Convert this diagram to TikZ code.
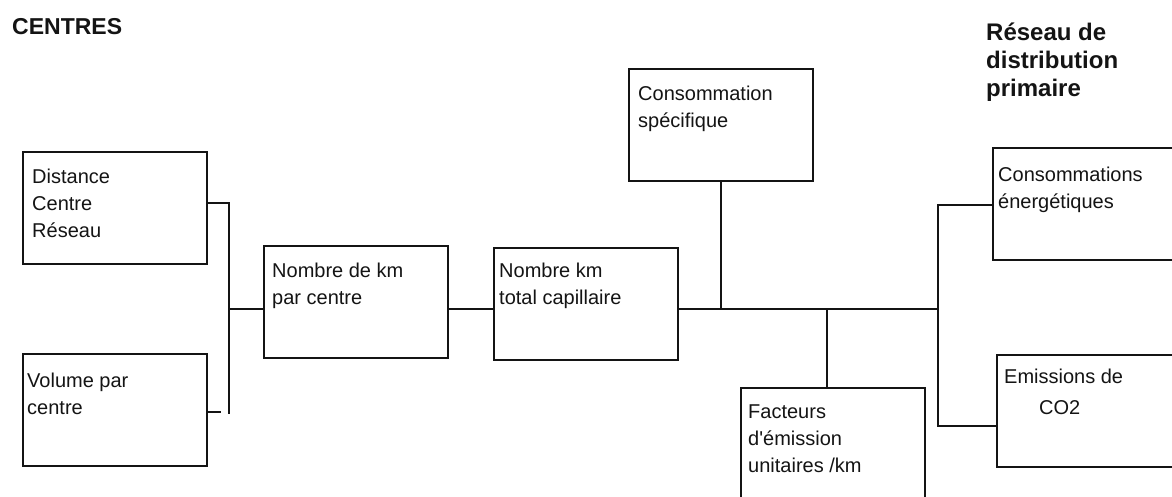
\documentclass[tikz,border=0pt]{standalone}
\usepackage{fontspec}
\setmainfont{Liberation Sans}
\usetikzlibrary{calc}

% left-aligned stack of lines; the baseline is that of the first line
\newcommand\txtlines[2][27pt]{\vtop{\baselineskip=#1\lineskiplimit=-100pt\lineskip=0pt
  \halign{##\hfil\cr#2\crcr}}}

\tikzset{
  stepbox/.style={draw=ink, line width=1.6pt, rectangle, inner sep=0pt,
    anchor=north west, minimum width=184pt, minimum height=112pt},
  txt/.style={anchor=base west, inner sep=0pt, text=ink,
    font=\fontsize{20}{27}\selectfont},
  heading/.style={anchor=base west, inner sep=0pt, text=ink,
    font=\fontsize{23}{28}\selectfont\bfseries},
  wire/.style={draw=ink, line width=1.6pt},
}
\definecolor{ink}{HTML}{141414}

\begin{document}
\begin{tikzpicture}[x=1pt, y=-1pt]
  \clip (0,0) rectangle (1172,496);
  \fill[white] (0,0) rectangle (1172,496);

  % headings
  \node[heading] (centres) at (12,34) {CENTRES};
  \node[heading, font=\fontsize{24}{28}\selectfont\bfseries] (reseau) at (986,40)
    {\txtlines[28pt]{Réseau de\cr distribution\cr primaire}};

  % boxes
  \node[stepbox] (dist)      at (22,151)  {};
  \node[stepbox] (vol)       at (22,353)  {};
  \node[stepbox] (nbkm)      at (263,245) {};
  \node[stepbox] (nbtot)     at (493,247) {};
  \node[stepbox] (consospec) at (628,68)  {};
  \node[stepbox, minimum height=130pt] (facteurs) at (740,387) {};
  \node[stepbox, minimum width=200pt] (conso) at (992,147) {};
  \node[stepbox, minimum width=200pt] (emis)  at (996,354) {};

  % box texts
  \node[txt] (t-dist) at ($(dist.north west)+(10,32)$)
    {\txtlines{Distance\cr Centre\cr Réseau}};
  \node[txt] (t-vol) at ($(vol.north west)+(5,34)$)
    {\txtlines{Volume par\cr centre}};
  \node[txt] (t-nbkm) at ($(nbkm.north west)+(9,32)$)
    {\txtlines{Nombre de km\cr par centre}};
  \node[txt] (t-nbtot) at ($(nbtot.north west)+(6,30)$)
    {\txtlines{Nombre km\cr total capillaire}};
  \node[txt] (t-spec) at ($(consospec.north west)+(10,32)$)
    {\txtlines{Consommation\cr spécifique}};
  \node[txt] (t-fact) at ($(facteurs.north west)+(8,31)$)
    {\txtlines{Facteurs\cr d\textquotesingle émission\cr unitaires /km}};
  \node[txt] (t-conso) at ($(conso.north west)+(6,34)$)
    {\txtlines{Consommations\cr énergétiques}};
  \node[txt] (t-emis) at ($(emis.north west)+(8,29)$)
    {\txtlines[31pt]{Emissions de\cr \hspace*{35pt}CO2}};

  % junction points
  \coordinate (lb-top) at (229,203);
  \coordinate (lb-mid) at (229,309);
  \coordinate (lb-bot) at (229,414);
  \coordinate (volstub) at (221,412);
  \coordinate (spec-j) at (721,309);
  \coordinate (fact-j) at (827,309);
  \coordinate (rb-top) at (938,205);
  \coordinate (rb-mid) at (938,309);
  \coordinate (rb-bot) at (938,426);

  % left bracket
  \draw[wire] (dist.east |- lb-top) -- (lb-top) -- (lb-bot);
  \draw[wire] (vol.east |- volstub) -- (volstub);
  \draw[wire] (lb-mid) -- (nbkm.west |- lb-mid);

  % main line
  \draw[wire] (nbkm.east |- lb-mid) -- (nbtot.west |- lb-mid);
  \draw[wire] (nbtot.east |- rb-mid) -- (rb-mid);
  \draw[wire] (consospec.south -| spec-j) -- (spec-j);
  \draw[wire] (fact-j) -- (fact-j |- facteurs.north);

  % right bracket
  \draw[wire] (conso.west |- rb-top) -- (rb-top) -- (rb-bot) -- (emis.west |- rb-bot);
\end{tikzpicture}
\end{document}
